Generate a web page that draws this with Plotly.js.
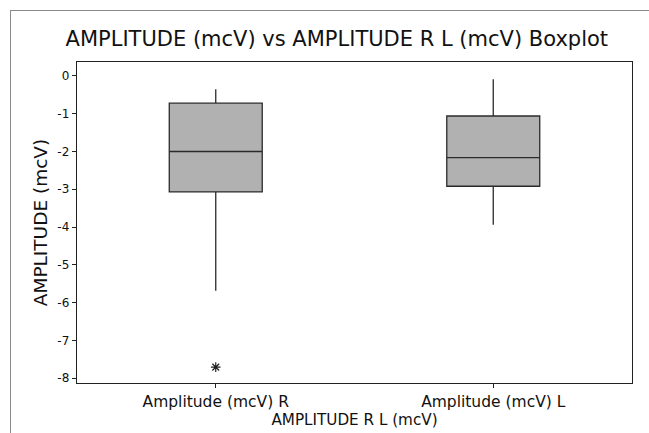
<!DOCTYPE html>
<html>
<head>
<meta charset="utf-8">
<script src="https://cdn.plot.ly/plotly-3.0.1.min.js"></script>
<style>
html,body{margin:0;padding:0;background:#fff;overflow:hidden;}
#chart{width:649px;height:433px;}
#frame{position:absolute;left:10px;top:10px;width:800px;height:600px;border-left:1px solid #8a8a8a;border-top:1px solid #8a8a8a;pointer-events:none;}
</style>
</head>
<body>
<div id="chart"></div>
<div id="frame"></div>
<script>
const categories = ["Amplitude (mcV) R", "Amplitude (mcV) L"];
const q1Values = [-3.07, -2.92];
const medianValues = [-2.0, -2.16];
const q3Values = [-0.72, -1.06];
const lowerWhisker = [-5.69, -3.94];
const upperWhisker = [-0.35, -0.09];
const outlierCategory = ["Amplitude (mcV) R"];
const outlierValues = [-7.71];
const yTickVals = [0, -1, -2, -3, -4, -5, -6, -7, -8];
const yTickText = ["0", "-1", "-2", "-3", "-4", "-5", "-6", "-7", "-8"];

const font = "DejaVu Sans, Verdana, sans-serif";

const boxTrace = {
  type: "box",
  x: categories,
  q1: q1Values,
  median: medianValues,
  q3: q3Values,
  lowerfence: lowerWhisker,
  upperfence: upperWhisker,
  boxpoints: false,
  fillcolor: "#b1b1b1",
  line: {color: "#2b2b2b", width: 1.3},
  whiskerwidth: 0,
  width: 0.335,
  hoverinfo: "none",
  showlegend: false
};

const outlierTrace = {
  type: "scatter",
  mode: "markers",
  x: outlierCategory,
  y: outlierValues,
  marker: {symbol: "asterisk-open", size: 8, color: "#222", line: {color: "#222", width: 1.2}},
  hoverinfo: "none",
  showlegend: false
};

const layout = {
  width: 649,
  height: 433,
  margin: {l: 77, r: 17, t: 62, b: 50},
  paper_bgcolor: "#fff",
  plot_bgcolor: "#fff",
  font: {family: font, color: "#111"},
  title: {
    text: "AMPLITUDE (mcV) vs AMPLITUDE R L (mcV) Boxplot",
    font: {family: font, size: 21, color: "#111"},
    x: 0.519, xref: "container", xanchor: "center",
    y: 0.9115, yref: "container", yanchor: "middle"
  },
  xaxis: {
    type: "category",
    categoryorder: "array",
    categoryarray: categories,
    range: [-0.5, 1.5],
    showline: true, mirror: true, linecolor: "#222", linewidth: 1.3,
    showgrid: false, zeroline: false,
    ticks: "outside", ticklen: 4, tickcolor: "#222",
    tickfont: {family: font, size: 15.5, color: "#111"},
    title: {text: "AMPLITUDE R L (mcV)", font: {family: font, size: 15.2, color: "#111"}, standoff: 2}
  },
  yaxis: {
    range: [-8.13, 0.37],
    tickvals: yTickVals,
    ticktext: yTickText,
    showline: true, mirror: true, linecolor: "#222", linewidth: 1.3,
    showgrid: false, zeroline: false,
    ticks: "outside", ticklen: 4, tickcolor: "#222",
    tickfont: {family: font, size: 12, color: "#111"},
    title: {text: "AMPLITUDE (mcV)", font: {family: font, size: 18.5, color: "#111"}, standoff: 5}
  }
};

Plotly.newPlot("chart", [boxTrace, outlierTrace], layout, {staticPlot: true, displayModeBar: false});
</script>
</body>
</html>
